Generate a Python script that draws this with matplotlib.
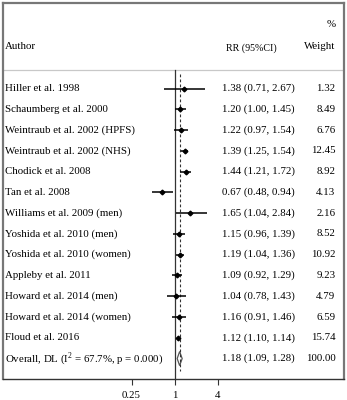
import matplotlib
matplotlib.use("Agg")
import matplotlib.pyplot as plt
import numpy as np

authors = ["Hiller et al. 1998", "Schaumberg et al. 2000", "Weintraub et al. 2002 (HPFS)",
           "Weintraub et al. 2002 (NHS)", "Chodick et al. 2008", "Tan et al. 2008",
           "Williams et al. 2009 (men)", "Yoshida et al. 2010 (men)", "Yoshida et al. 2010 (women)",
           "Appleby et al. 2011", "Howard et al. 2014 (men)", "Howard et al. 2014 (women)",
           "Floud et al. 2016"]
rr = [1.38, 1.20, 1.22, 1.39, 1.44, 0.67, 1.65, 1.15, 1.19, 1.09, 1.04, 1.16, 1.12]
lo = [0.71, 1.00, 0.97, 1.25, 1.21, 0.48, 1.04, 0.96, 1.04, 0.92, 0.78, 0.91, 1.10]
hi = [2.67, 1.45, 1.54, 1.54, 1.72, 0.94, 2.84, 1.39, 1.36, 1.29, 1.43, 1.46, 1.14]
weights = [1.32, 8.49, 6.76, 12.45, 8.92, 4.13, 2.16, 8.52, 10.92, 9.23, 4.79, 6.59, 15.74]
overall_label = "Overall, DL (I$^{2}$ = 67.7%, p = 0.000)"
overall = (1.18, 1.09, 1.28)
overall_weight = 100.00
xticks = [0.25, 1, 4]
xticklabels = ["0.25", "1", "4"]

plt.rcParams['font.family'] = ['Liberation Serif', 'DejaVu Serif']
plt.rcParams['mathtext.fontset'] = 'custom'
plt.rcParams['mathtext.rm'] = 'Liberation Serif'
fs = 7.8

fig = plt.figure(figsize=(3.47, 4.0), dpi=100)
ax = fig.add_axes([2.5/347, 1 - 378.5/400, 341/347, 376/400])
ax.set_xscale('log', base=2)
ax.set_xlim(2 ** -8.0, 2 ** 7.86)
ax.set_ylim(13.96, -4.14)

n = len(authors)
rows = np.arange(n)
for s in ax.spines.values():
    s.set_color('#777777')
    s.set_linewidth(1.6)
ax.spines['bottom'].set_color('#333333')
ax.spines['bottom'].set_linewidth(1.0)

# header separator
ax.axhline(-0.87, color='#c8c8c8', lw=0.9)
# line of no effect
ax.plot([1, 1], [-0.87, 13.96], color='#333333', lw=0.9, clip_on=False)
# overall dashed line
ax.plot([overall[0], overall[0]], [-0.72, 13.6], color='#333333', lw=0.8, ls=(0, (2.5, 2)))

# CIs and points
ax.hlines(rows, lo, hi, color='black', lw=1.1)
ax.plot(rr, rows, 'D', color='black', ms=2.4)

# overall diamond
yo = n
ax.fill([overall[1], overall[0], overall[2], overall[0]], [yo, yo - 0.34, yo, yo + 0.34],
        facecolor='white', edgecolor='#555555', lw=0.9)

trans = ax.get_yaxis_transform()
for i, a in enumerate(authors + [overall_label]):
    ax.text(2.5 / 341, i, a, transform=trans, ha='left', va='center', fontsize=fs)
rr_txt = [f"{r:.2f} ({l:.2f}, {h:.2f})" for r, l, h in zip(rr, lo, hi)]
rr_txt.append(f"{overall[0]:.2f} ({overall[1]:.2f}, {overall[2]:.2f})")
w_txt = [f"{w:.2f}" for w in weights] + [f"{overall_weight:.2f}"]
for i, (t, w) in enumerate(zip(rr_txt, w_txt)):
    ax.text(219.5 / 341, i, t, transform=trans, ha='left', va='center', fontsize=fs)
    ax.text(333 / 341, i, w, transform=trans, ha='right', va='center', fontsize=fs)

ax.text(2.5 / 341, -2.0, "Author", transform=trans, ha='left', va='center', fontsize=fs)
ax.text(249 / 341, -1.95, "RR (95%CI)", transform=trans, ha='center', va='center', fontsize=fs - 0.6)
ax.text(333 / 341, -2.0, "Weight", transform=trans, ha='right', va='center', fontsize=fs)
ax.text(333 / 341, -3.08, "%", transform=trans, ha='right', va='center', fontsize=fs)

ax.set_yticks([])
ax.set_xticks(xticks)
ax.set_xticklabels(xticklabels, fontsize=fs)
ax.xaxis.set_minor_locator(matplotlib.ticker.NullLocator())
ax.tick_params(axis='x', direction='out', length=4, width=0.8, color='#333333', pad=5)

fig.savefig("out.png", dpi=100)
